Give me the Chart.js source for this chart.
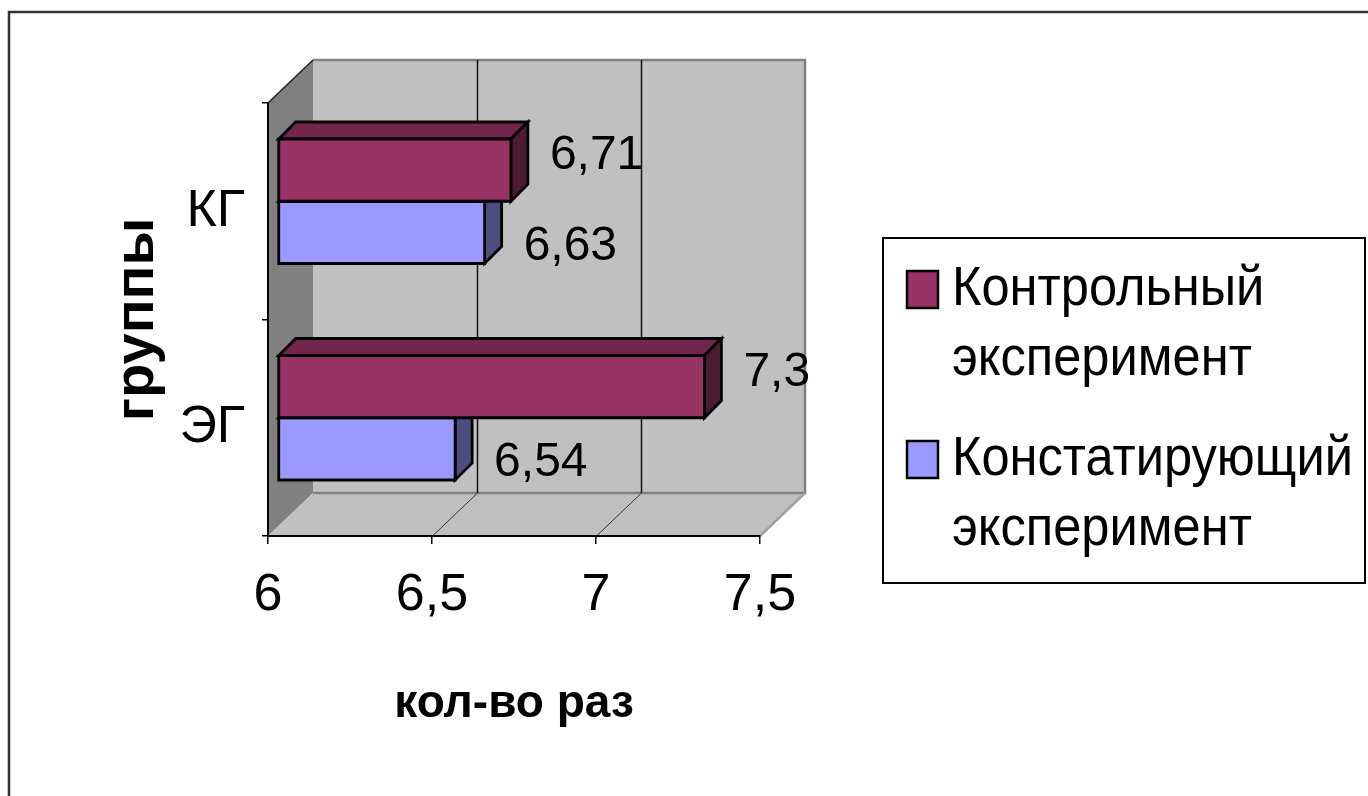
<!DOCTYPE html>
<html lang="ru">
<head>
<meta charset="utf-8">
<title>Группы — кол-во раз</title>
<script src="https://cdn.jsdelivr.net/npm/chart.js@4.4.1/dist/chart.umd.min.js"></script>
<style>
  html, body { margin: 0; padding: 0; background: #fff; }
  canvas { display: block; }
</style>
</head>
<body>
<canvas id="chart" width="1368" height="796"></canvas>
<script>
// ---- data ----
const categories = ['КГ', 'ЭГ'];
const seriesNames = ['Контрольный эксперимент', 'Констатирующий эксперимент'];
const controlValues = [6.71, 7.3];
const statingValues = [6.63, 6.54];
const tickValues = [6, 6.5, 7, 7.5];
const tickLabels = ['6', '6,5', '7', '7,5'];
const axisTitleX = 'кол-во раз';
const axisTitleY = 'группы';

// ---- styling ----
const FONT = "'Liberation Sans', Arial, Helvetica, sans-serif";
const COLORS = ['#993366', '#9999ff'];
const WALL_DX = 45, WALL_DY = 43;     // oblique depth of the plot box
const BAR_NEAR = 10, BAR_DEPTH = 17;  // bar position / thickness in depth
const LABEL_GAP = 39;
const OUTLINE = 2.8;

function shade(hex, k) {
  const n = parseInt(hex.slice(1), 16);
  const r = Math.round(((n >> 16) & 255) * k);
  const g = Math.round(((n >> 8) & 255) * k);
  const b = Math.round((n & 255) * k);
  return `rgb(${r},${g},${b})`;
}
function formatValue(v) { return String(v).replace('.', ','); }

function poly(ctx, pts, fill, stroke, lw) {
  ctx.beginPath();
  ctx.moveTo(pts[0][0], pts[0][1]);
  for (let i = 1; i < pts.length; i++) ctx.lineTo(pts[i][0], pts[i][1]);
  ctx.closePath();
  if (fill) { ctx.fillStyle = fill; ctx.fill(); }
  if (stroke) { ctx.strokeStyle = stroke; ctx.lineWidth = lw; ctx.stroke(); }
}

// back wall, side wall and floor of the 3D box
const wallsPlugin = {
  id: 'walls',
  beforeDraw(chart) {
    const { ctx, chartArea: a, scales: { x } } = chart;
    const dx = WALL_DX, dy = WALL_DY;
    ctx.save();
    ctx.fillStyle = '#fff';
    ctx.fillRect(0, 0, chart.width, chart.height);
    // back wall
    poly(ctx, [[a.left + dx, a.top - dy], [a.right + dx, a.top - dy],
               [a.right + dx, a.bottom - dy], [a.left + dx, a.bottom - dy]], '#c0c0c0');
    // left wall
    poly(ctx, [[a.left, a.top], [a.left + dx, a.top - dy],
               [a.left + dx, a.bottom - dy], [a.left, a.bottom]], '#808080');
    // floor
    poly(ctx, [[a.left, a.bottom], [a.left + dx, a.bottom - dy],
               [a.right + dx, a.bottom - dy], [a.right, a.bottom]], '#c0c0c0');
    // wall edges
    ctx.lineWidth = 2.5;
    ctx.strokeStyle = '#808080';
    ctx.beginPath();
    ctx.moveTo(a.left + dx, a.top - dy);
    ctx.lineTo(a.right + dx, a.top - dy);
    ctx.lineTo(a.right + dx, a.bottom - dy);
    ctx.lineTo(a.left + dx, a.bottom - dy);
    ctx.stroke();
    ctx.strokeStyle = '#a0a0a0';
    ctx.beginPath();
    ctx.moveTo(a.right + dx, a.bottom - dy);
    ctx.lineTo(a.right, a.bottom);
    ctx.stroke();
    ctx.strokeStyle = '#222';
    ctx.lineWidth = 1.5;
    ctx.beginPath();
    ctx.moveTo(a.left, a.top);
    ctx.lineTo(a.left + dx, a.top - dy);
    ctx.stroke();
    // gridlines on back wall and floor
    tickValues.forEach(v => {
      if (v === x.min || v === x.max) return;
      const px = Math.round(x.getPixelForValue(v)) + 0.5;
      ctx.strokeStyle = '#111';
      ctx.lineWidth = 1.5;
      ctx.beginPath();
      ctx.moveTo(px + dx, a.top - dy);
      ctx.lineTo(px + dx, a.bottom - dy);
      ctx.stroke();
      ctx.lineWidth = 1;
      ctx.strokeStyle = '#333';
      ctx.beginPath();
      ctx.moveTo(px, a.bottom);
      ctx.lineTo(px + dx, a.bottom - dy);
      ctx.stroke();
    });
    ctx.restore();
  }
};

// bars drawn as boxes from the bar elements laid out by the scales
const boxBarsPlugin = {
  id: 'boxBars',
  beforeDatasetDraw() { return false; },
  afterDatasetsDraw(chart) {
    const { ctx } = chart;
    const n = chart.data.datasets.length;
    ctx.save();
    ctx.lineJoin = 'miter';
    const boxes = [];
    for (let i = 0; i < chart.data.labels.length; i++) {
      for (let d = n - 1; d >= 0; d--) {
        const el = chart.getDatasetMeta(d).data[i];
        const color = chart.data.datasets[d].backgroundColor;
        const left = el.base + BAR_NEAR, right = el.x + BAR_NEAR;
        const top = el.y - el.height / 2 - BAR_NEAR, bottom = el.y + el.height / 2 - BAR_NEAR;
        const k = BAR_DEPTH;
        poly(ctx, [[left, top], [right, top], [right + k, top - k], [left + k, top - k]], shade(color, 0.75), '#000', OUTLINE);
        poly(ctx, [[right, top], [right + k, top - k], [right + k, bottom - k], [right, bottom]], shade(color, 0.5), '#000', OUTLINE);
        poly(ctx, [[left, top], [right, top], [right, bottom], [left, bottom]], color, '#000', OUTLINE);
        boxes.push({ d, right, cy: (top + bottom) / 2, value: chart.data.datasets[d].data[i] });
      }
    }
    // value labels
    ctx.font = `48px ${FONT}`;
    ctx.fillStyle = '#000';
    ctx.textAlign = 'left';
    ctx.textBaseline = 'middle';
    boxes.forEach(b => {
      const shift = b.d === 0 ? -14 : 14;
      ctx.fillText(formatValue(b.value), b.right + LABEL_GAP, b.cy + shift);
    });
    ctx.restore();
  }
};

// framed legend on the right and the outer frame
const frameLegendPlugin = {
  id: 'frameLegend',
  afterDraw(chart) {
    const { ctx } = chart;
    ctx.save();
    ctx.strokeStyle = '#000';
    ctx.lineWidth = 2;
    ctx.strokeRect(883, 238, 482, 345);
    chart.data.datasets.forEach((ds, i) => {
      const top = 271 + i * 170;
      ctx.fillStyle = ds.backgroundColor;
      ctx.fillRect(907, top, 31, 37);
      ctx.lineWidth = 2.5;
      ctx.strokeStyle = '#000';
      ctx.strokeRect(907, top, 31, 37);
      ctx.fillStyle = '#000';
      ctx.font = `55px ${FONT}`;
      ctx.textAlign = 'left';
      ctx.textBaseline = 'alphabetic';
      ds.label.split(' ').forEach((line, j) => {
        ctx.save();
        ctx.translate(952, 305 + i * 170 + j * 70);
        ctx.scale(0.92, 1);
        ctx.fillText(line, 0, 0);
        ctx.restore();
      });
    });
    ctx.strokeStyle = '#333';
    ctx.lineWidth = 2.5;
    ctx.strokeRect(9, 12, 1400, 820);
    ctx.restore();
  }
};

new Chart(document.getElementById('chart'), {
  type: 'bar',
  data: {
    labels: categories,
    datasets: [
      { label: seriesNames[0], data: controlValues, backgroundColor: COLORS[0], base: tickValues[0] },
      { label: seriesNames[1], data: statingValues, backgroundColor: COLORS[1], base: tickValues[0] }
    ]
  },
  options: {
    responsive: false,
    animation: false,
    devicePixelRatio: 1,
    indexAxis: 'y',
    layout: { padding: { left: 0, top: 103, right: 608, bottom: 0 } },
    datasets: { bar: { barPercentage: 1, categoryPercentage: 0.575 } },
    plugins: { legend: { display: false }, tooltip: { enabled: false } },
    scales: {
      x: {
        type: 'linear',
        position: 'bottom',
        min: tickValues[0],
        max: tickValues[tickValues.length - 1],
        afterBuildTicks: s => { s.ticks = tickValues.map(v => ({ value: v })); },
        afterFit: s => { s.height = 260; },
        ticks: {
          color: '#000',
          font: { family: FONT, size: 52 },
          padding: 20,
          maxRotation: 0,
          autoSkip: false,
          callback: v => tickLabels[tickValues.indexOf(v)]
        },
        grid: { drawOnChartArea: false, drawTicks: true, tickLength: 8, color: '#000', lineWidth: 1.5 },
        border: { display: true, color: '#000', width: 2 },
        title: {
          display: true, text: axisTitleX, color: '#000',
          font: { family: FONT, size: 46, weight: 'bold' },
          padding: { top: 0, bottom: 64 }
        }
      },
      y: {
        type: 'category',
        position: 'left',
        afterFit: s => { s.width = 268; },
        ticks: { color: '#000', font: { family: FONT, size: 52 }, padding: 17 },
        grid: { offset: true, drawOnChartArea: false, drawTicks: true, tickLength: 6, color: '#000', lineWidth: 1.5 },
        border: { display: true, color: '#000', width: 2 },
        title: {
          display: true, text: axisTitleY, color: '#000',
          font: { family: FONT, size: 56, weight: 'bold' },
          padding: { top: 104, bottom: 0 }
        }
      }
    }
  },
  plugins: [wallsPlugin, boxBarsPlugin, frameLegendPlugin]
});
</script>
</body>
</html>
